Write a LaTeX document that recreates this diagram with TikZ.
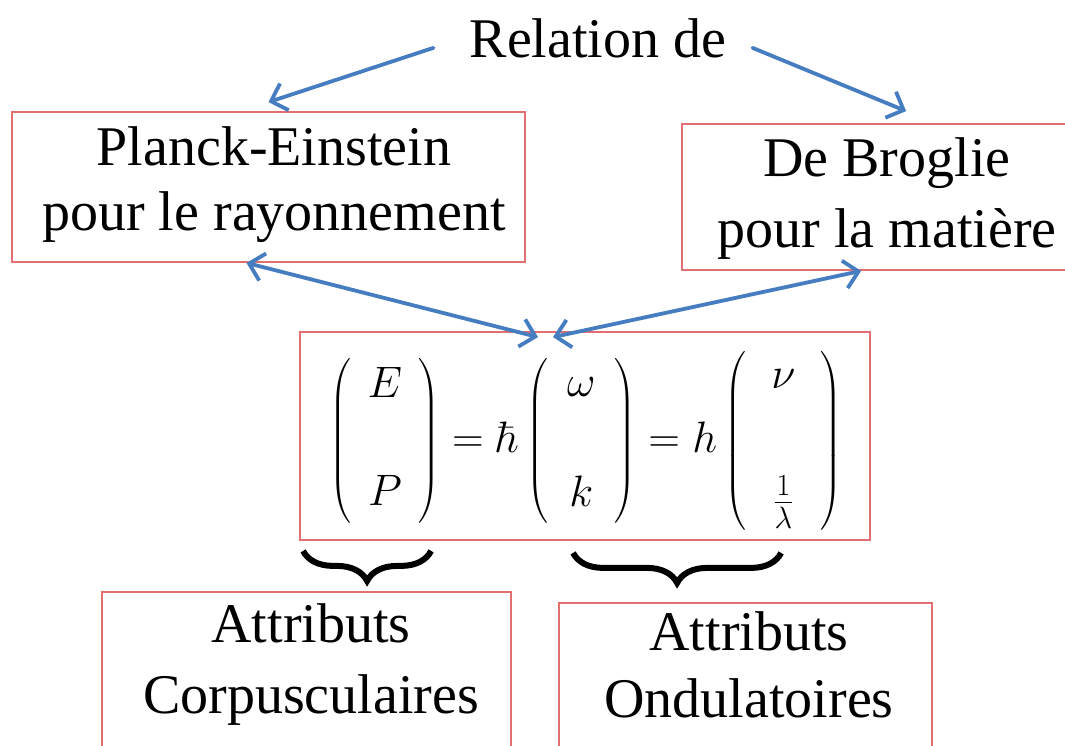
\RequirePackage{fix-cm}
\documentclass[tikz,border=0pt]{standalone}
\usepackage{amsmath}
\usepackage[no-math]{fontspec}
\setmainfont{Liberation Serif}
\usetikzlibrary{arrows.meta,decorations.pathreplacing,calc}
\definecolor{boxred}{RGB}{226,112,112}
\definecolor{arrblue}{RGB}{70,125,192}
\begin{document}
\begin{tikzpicture}[x=1pt,y=-1pt,
  box/.style={draw=boxred,line width=1.8pt,inner sep=0pt},
  txt/.style={inner sep=0pt,align=center,font=\fontsize{56}{65}\selectfont},
  conn/.style={draw=arrblue,line width=3.8pt,line cap=round,-{Straight Barb[length=14pt,width=28pt,line width=3.8pt]}},
  conntwo/.style={draw=arrblue,line width=3.8pt,line cap=round,{Straight Barb[length=14pt,width=28pt,line width=3.8pt]}-{Straight Barb[length=14pt,width=28pt,line width=3.8pt]}},
  brc/.style={decorate,decoration={brace,mirror,amplitude=30pt},line width=6pt}
]
\fill[white] (0,0) rectangle (1065,745);
\useasboundingbox (0,0) rectangle (1065,745);
\clip (0,0) rectangle (1065,745);

% title
\node[txt,anchor=base] (rel) at (598,57) {Relation de};

% boxes
\node[box,minimum width=513pt,minimum height=150pt] (pl) at (268.5,187) {};
\node[txt,anchor=base] (plt) at (274,230) {Planck-Einstein\\pour le rayonnement};
\node[box,minimum width=420pt,minimum height=146pt] (db) at (892,197) {};
\node[txt,anchor=base] (dbt) at (887,247) {De Broglie\\[6pt]pour la matière};
\node[box,minimum width=570pt,minimum height=208pt] (eq) at (585,436) {};
\node[box,minimum width=409pt,minimum height=250pt] (co) at (306.5,717) {};
\node[txt,anchor=base] (cot) at (311,713) {Attributs\\[6pt]Corpusculaires};
\node[box,minimum width=373pt,minimum height=250pt] (on) at (745.5,728) {};
\node[txt,anchor=base] (ont) at (749,717) {Attributs\\[2pt]Ondulatoires};

% equation
\node[inner sep=0pt,font=\fontsize{44}{50}\selectfont] (eqt) at (586,441)
 {$\left(\begin{matrix}\hspace{16pt} E\hspace{16pt}\\[58pt]\hspace{16pt} P\hspace{16pt}\end{matrix}\right)=\hbar\left(\begin{matrix}\hspace{19pt}\omega\hspace{19pt}\\[60pt]\hspace{19pt}k\hspace{19pt}\end{matrix}\right)=h\left(\begin{matrix}\hspace{25pt}\nu\hspace{25pt}\\[72pt]\hspace{25pt}\frac{1}{\lambda}\hspace{25pt}\end{matrix}\right)$};

% connectors
\coordinate (a1s) at ($(rel.west)+(-36,10)$);
\coordinate (a1e) at ($(pl.north)+(0,-9)$);
\draw[conn] (a1s) -- (a1e);
\coordinate (a2s) at ($(rel.east)+(26,10)$);
\coordinate (a2e) at ($(db.north west)+(225,-12)$);
\draw[conn] (a2s) -- (a2e);
\coordinate (b1s) at ($(pl.south)+(-22,0)$);
\coordinate (b1e) at ($(eq.north)+(-47,6)$);
\draw[conntwo] (b1s) -- (b1e);
\coordinate (b2s) at ($(db.south west)+(180,0)$);
\coordinate (b2e) at ($(eq.north)+(-32,6)$);
\draw[conntwo] (b2s) -- (b2e);

% braces
\coordinate (br1a) at ($(eq.south west)+(4,10)$);
\coordinate (br1b) at ($(eq.south west)+(132,10)$);
\draw[brc] (br1a) -- (br1b);
\coordinate (br2a) at ($(eq.south west)+(274,12)$);
\coordinate (br2b) at ($(eq.south west)+(482,12)$);
\draw[brc] (br2a) -- (br2b);
\end{tikzpicture}
\end{document}
